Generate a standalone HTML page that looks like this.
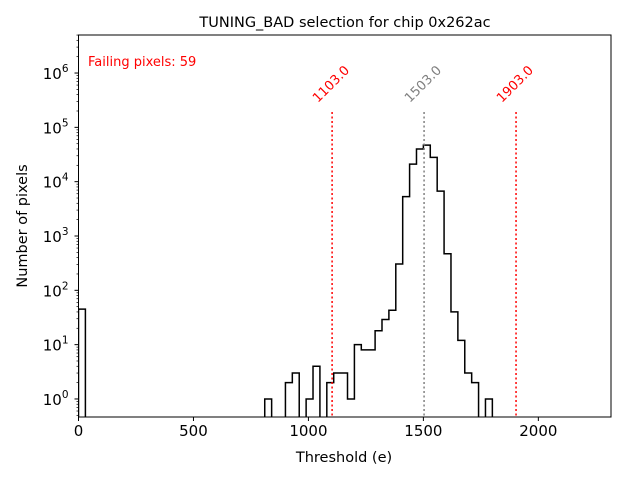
<!DOCTYPE html>
<html><head><meta charset="utf-8"><style>
body{margin:0;background:#fff;}
svg{display:block;font-family:"DejaVu Sans","Liberation Sans",sans-serif;}
</style></head><body>
<svg id="chart" width="640" height="480">
<text x="345" y="27" font-size="14.5" text-anchor="middle">TUNING_BAD selection for chip 0x262ac</text>
<g id="plot"></g>
<text x="88" y="66" font-size="13" fill="red">Failing pixels: 59</text>
<text x="344" y="462" font-size="14.5" text-anchor="middle">Threshold (e)</text>
<text transform="translate(27,226) rotate(-90)" font-size="14.5" text-anchor="middle">Number of pixels</text>
</svg>
<script>
const binStarts=[0,810,900,930,960,990,1020,1050,1080,1110,1140,1170,1200,1230,1260,1290,1320,1350,1380,1410,1440,1470,1500,1530,1560,1590,1620,1650,1680,1710,1740,1770];
const counts=[45,1,2,3,0,1,4,0,2,3,3,1,10,8,8,18,29,43,305,5300,21000,40000,47000,28000,6700,470,40,12,3,2,0,1];
const binWidth=30;
const xTicks=[0,500,1000,1500,2000];
const yTickExps=[0,1,2,3,4,5,6];
const cuts=[1103,1503,1903];
const cutColors=["red","gray","red"];
const L=78.5,R=611,T=35,B=417;
const X0=0,X1=2316,LY0=-0.332,LY1=6.70;
const sx=v=>L+(v-X0)/(X1-X0)*(R-L);
const sy=v=>{const lv=v<=0?LY0-1:Math.log10(v);return Math.min(B+2,B-(lv-LY0)/(LY1-LY0)*(B-T));};
const NS="http://www.w3.org/2000/svg";
const g=document.getElementById('plot');
function mk(t,a,p){const e=document.createElementNS(NS,t);for(const k in a)e.setAttribute(k,a[k]);(p||g).appendChild(e);return e;}
let d="";
let prevEnd=null;
for(let i=0;i<binStarts.length;i++){
  const x0=sx(binStarts[i]),x1=sx(binStarts[i]+binWidth),y=sy(counts[i]);
  if(prevEnd===null||Math.abs(prevEnd-binStarts[i])>0.1){d+=(d?` L${sx(prevEnd)},${B+2}`:"")+` M${x0},${B+2}`;}
  d+=` L${x0},${y} L${x1},${y}`;
  prevEnd=binStarts[i]+binWidth;
}
d+=` L${sx(prevEnd)},${B+2}`;
const clip=mk('clipPath',{id:'pc'});mk('rect',{x:L,y:T,width:R-L,height:B-T},clip);
const h=mk('path',{d:d,fill:'none',stroke:'#000','stroke-width':1.5,'clip-path':'url(#pc)'});


cuts.forEach((c,i)=>{
  const ln=mk('line',{x1:sx(c),x2:sx(c),y1:112,y2:B,stroke:cutColors[i],'stroke-width':1.5,'stroke-dasharray':'2,2.5'});
  
  
  const t=mk('text',{transform:`translate(${sx(c)+18},${71}) rotate(-45)`,'font-size':13,fill:cutColors[i],'text-anchor':'end'});
  t.textContent=c.toFixed(1);
  
  
});
const fr=mk('rect',{x:L,y:T,width:R-L,height:B-T,fill:'none',stroke:'#000','stroke-width':1});


xTicks.forEach(v=>{
  const x=sx(v);
  mk('line',{x1:x,x2:x,y1:B,y2:B+4,stroke:'#000'});
  const t=mk('text',{x:x,y:B+19,'font-size':15,'text-anchor':'middle'});
  t.textContent=v;
  
  
});
for(let e=-1;e<=6;e++){
  for(let m=2;m<=9;m++){const v=m*Math.pow(10,e);const lv=Math.log10(v);if(lv<LY0||lv>LY1)continue;const y=sy(v);mk('line',{x1:L-2,x2:L,y1:y,y2:y,stroke:'#000','stroke-width':0.7});}
}
yTickExps.forEach(e=>{
  const y=sy(Math.pow(10,e));
  mk('line',{x1:L-4,x2:L,y1:y,y2:y,stroke:'#000'});
  const t=mk('text',{x:L-10,y:y+6,'font-size':15,'text-anchor':'end'});
  t.innerHTML='10<tspan dy="-7" font-size="10.5">'+e+'</tspan>';
  
  
});
</script>
</body></html>
